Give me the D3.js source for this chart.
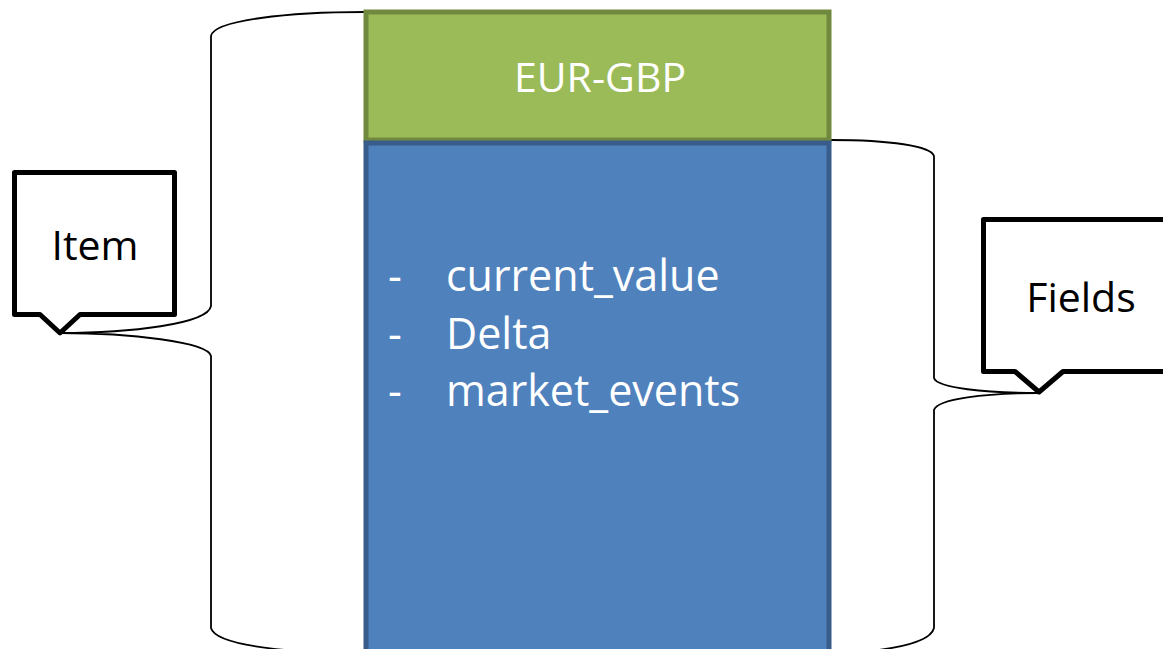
<!DOCTYPE html>
<html>
<head>
<meta charset="utf-8">
<script src="https://cdn.jsdelivr.net/npm/d3@7"></script>
<style>
  body { margin: 0; background: #fff; }
  svg { display: block; }
  text { font-family: "Open Sans", Lato, sans-serif; }
</style>
</head>
<body>
<svg id="chart"></svg>
<script>
const width = 1163;
const height = 649;

// diagram content
const header = "EUR-GBP";
const fields = ["current_value", "Delta", "market_events"];
const callouts = ["Item", "Fields"];

const fontSize = 41;
const listFontSize = 43;

const svg = d3.select("#chart")
  .attr("width", width)
  .attr("height", height);

// list rows placed with a point scale
const rowY = d3.scalePoint()
  .domain(fields)
  .range([291, 406]);

// braces (drawn first so callouts sit on top)
const leftBrace = d3.path();
leftBrace.moveTo(364, 12);
leftBrace.bezierCurveTo(290, 12, 214, 20, 211, 36);
leftBrace.lineTo(211, 306);
leftBrace.bezierCurveTo(208, 324, 130, 333, 60, 333);
leftBrace.bezierCurveTo(130, 333, 208, 342, 211, 356);
leftBrace.lineTo(211, 628);
leftBrace.bezierCurveTo(214, 640, 250, 648, 310, 652);

const rightBrace = d3.path();
rightBrace.moveTo(831, 140);
rightBrace.bezierCurveTo(890, 140, 931, 146, 934, 156);
rightBrace.lineTo(934, 378);
rightBrace.bezierCurveTo(937, 388, 985, 393, 1040, 393);
rightBrace.bezierCurveTo(985, 393, 937, 399, 934, 410);
rightBrace.lineTo(934, 628);
rightBrace.bezierCurveTo(931, 640, 905, 648, 860, 652);

svg.selectAll(".brace")
  .data([leftBrace, rightBrace])
  .enter()
  .append("path")
  .attr("class", "brace")
  .attr("d", d => d.toString())
  .attr("fill", "none")
  .attr("stroke", "#000")
  .attr("stroke-width", 1.8);

// header box
svg.append("rect")
  .attr("x", 366).attr("y", 12)
  .attr("width", 463).attr("height", 128)
  .attr("fill", "#9bbb59")
  .attr("stroke", "#71893f")
  .attr("stroke-width", 5);

// fields box
svg.append("rect")
  .attr("x", 366).attr("y", 143)
  .attr("width", 463).attr("height", 520)
  .attr("fill", "#4f81bd")
  .attr("stroke", "#385d8a")
  .attr("stroke-width", 5);

svg.append("text")
  .attr("x", 600).attr("y", 92)
  .attr("text-anchor", "middle")
  .attr("fill", "#fff")
  .attr("font-size", fontSize)
  .text(header);

const rows = svg.selectAll(".row")
  .data(fields)
  .enter()
  .append("g")
  .attr("class", "row")
  .attr("transform", d => "translate(0," + rowY(d) + ")");

rows.append("text")
  .attr("x", 388)
  .attr("fill", "#fff")
  .attr("font-size", listFontSize)
  .text("-");

rows.append("text")
  .attr("x", 446)
  .attr("fill", "#fff")
  .attr("font-size", listFontSize)
  .text(d => d);

// callouts
const calloutShapes = [
  { label: callouts[0], d: "M14.5,172.5 H174.5 V314.5 H80 L60,333 L40,314.5 H14.5 Z", tx: 95, ty: 260 },
  { label: callouts[1], d: "M983.5,219.5 H1175 V371.5 H1063 L1039,392 L1015,371.5 H983.5 Z", tx: 1081, ty: 312 }
];

const co = svg.selectAll(".callout")
  .data(calloutShapes)
  .enter()
  .append("g")
  .attr("class", "callout");

co.append("path")
  .attr("d", d => d.d)
  .attr("fill", "#fff")
  .attr("stroke", "#000")
  .attr("stroke-width", 5)
  .attr("stroke-linejoin", "round");

co.append("text")
  .attr("x", d => d.tx)
  .attr("y", d => d.ty)
  .attr("text-anchor", "middle")
  .attr("fill", "#000")
  .attr("font-size", fontSize)
  .text(d => d.label);
</script>
</body>
</html>
